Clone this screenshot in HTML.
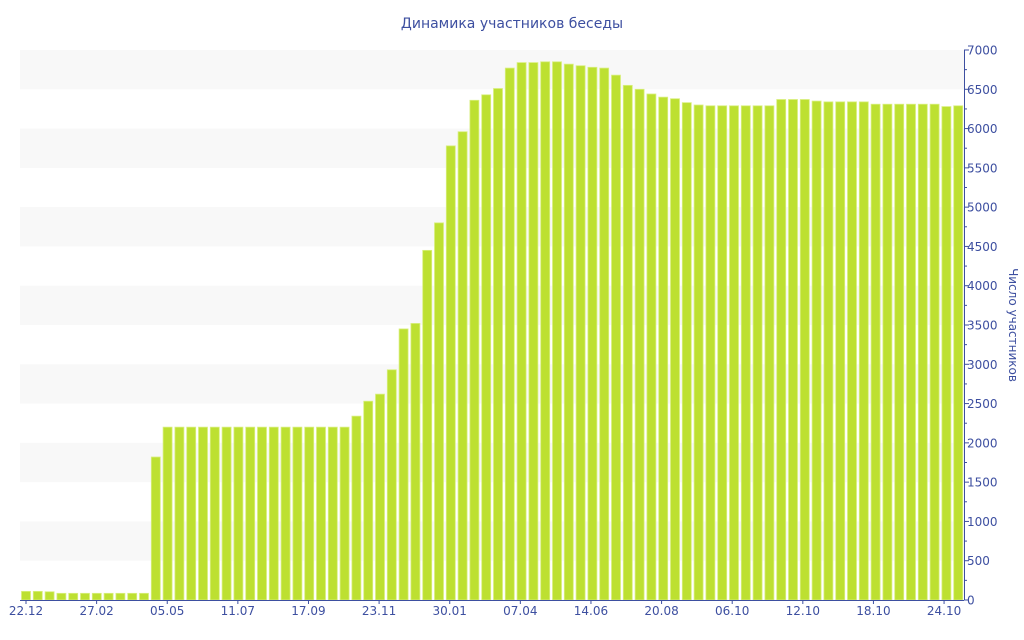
<!DOCTYPE html>
<html><head><meta charset="utf-8"><style>html,body{margin:0;padding:0;background:#fff}svg{display:block}text{font-family:"DejaVu Sans","Liberation Sans",sans-serif;fill:#3d4fa0}</style></head>
<body>
<svg id="c" width="1024" height="640" xmlns="http://www.w3.org/2000/svg">
<text x="512" y="28" font-size="14" text-anchor="middle">Динамика участников беседы</text>
<g fill="#f8f8f8">
<rect x="20" y="50" width="944" height="39.3"/>
<rect x="20" y="128.6" width="944" height="39.3"/>
<rect x="20" y="207.1" width="944" height="39.3"/>
<rect x="20" y="285.7" width="944" height="39.3"/>
<rect x="20" y="364.3" width="944" height="39.3"/>
<rect x="20" y="442.9" width="944" height="39.3"/>
<rect x="20" y="521.4" width="944" height="39.3"/>
</g>
<g id="bars" fill="#bde031" stroke="#d9ef80" stroke-width="0.8"></g>
<line x1="20" y1="600.5" x2="964" y2="600.5" stroke="#3d4fa0" stroke-width="1"/>
<line x1="964.5" y1="50" x2="964.5" y2="600" stroke="#3d4fa0" stroke-width="1"/>
<g id="ticks" stroke="#3d4fa0" stroke-width="1"></g>
<g id="yl" font-size="12"></g>
<g id="xl" font-size="12" text-anchor="middle"></g>
<text transform="translate(1009,325) rotate(90)" font-size="12" text-anchor="middle">Число участников</text>
</svg>
<script>
var v=[110,110,105,85,85,85,85,85,85,85,85,1820,2200,2200,2200,2200,2200,2200,2200,2200,2200,2200,2200,2200,2200,2200,2200,2200,2340,2530,2620,2930,3450,3520,4450,4800,5780,5960,6360,6430,6510,6770,6840,6840,6850,6850,6820,6800,6780,6770,6680,6550,6500,6440,6400,6380,6330,6300,6290,6290,6290,6290,6290,6290,6370,6370,6370,6350,6340,6340,6340,6340,6310,6310,6310,6310,6310,6310,6280,6290];
var ns="http://www.w3.org/2000/svg";function el(t,a,p){var e=document.createElementNS(ns,t);for(var k in a)e.setAttribute(k,a[k]);document.getElementById(p).appendChild(e);return e;}
var k=550/7000;
v.forEach(function(d,i){var cx=26+i*11.8,h=d*k;el('rect',{x:cx-4.5,y:600-h,width:9,height:h},'bars');});
for(var y=0;y<=7000;y+=250){var py=600-y*k;el('line',{x1:964,y1:py,x2:y%500?967:969,y2:py},'ticks');
if(y%500==0){var t=el('text',{x:967,y:py+4.5},'yl');t.textContent=y;}}
var lab=['22.12','27.02','05.05','11.07','17.09','23.11','30.01','07.04','14.06','20.08','06.10','12.10','18.10','24.10'];
lab.forEach(function(s,i){var x=26+i*6*11.77;el('line',{x1:x,y1:600,x2:x,y2:604},'ticks');var t=el('text',{x:x,y:615},'xl');t.textContent=s;});
</script>
</body></html>
